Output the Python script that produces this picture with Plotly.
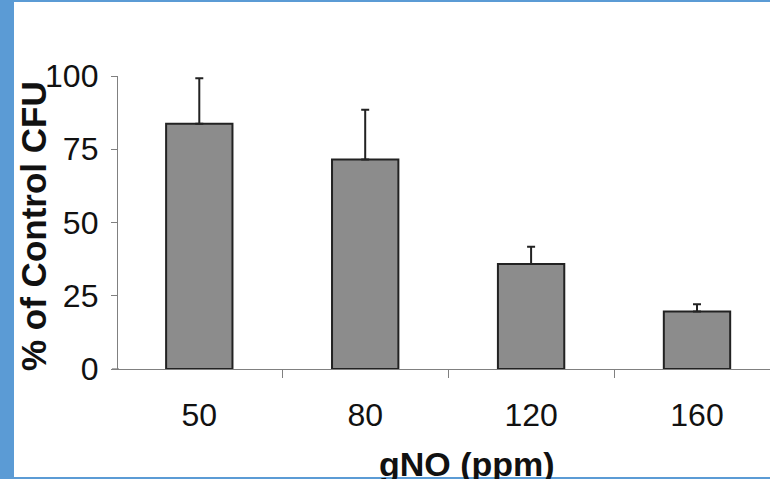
import plotly.graph_objects as go

categories = ["50", "80", "120", "160"]
pct_control = [83.7, 71.5, 35.8, 19.6]
err_upper = [15.5, 17.0, 5.9, 2.5]
y_ticks = [0, 25, 50, 75, 100]

W, H = 770, 479
L, R, T, B = 118, 0, 76, 110
pw, ph = W - L - R, H - T - B

def px_x(px):
    return (px - L) / pw

def px_y(py):
    return (H - B - py) / ph

fig = go.Figure()
fig.add_trace(go.Bar(
    x=categories, y=pct_control, width=0.4,
    marker=dict(color="#8c8c8c", line=dict(color="#222222", width=2)),
    error_y=dict(type="data", symmetric=False, array=err_upper,
                 arrayminus=[0] * len(err_upper),
                 color="#222222", thickness=2, width=4),
))

font = "Arial, Liberation Sans, sans-serif"
blue = "#5B9BD5"
shapes = [
    dict(type="rect", xref="paper", yref="paper", x0=px_x(0), x1=px_x(14),
         y0=px_y(H), y1=px_y(0), fillcolor=blue, line=dict(width=0), layer="above"),
    dict(type="rect", xref="paper", yref="paper", x0=px_x(14), x1=px_x(W),
         y0=px_y(2), y1=px_y(0), fillcolor=blue, line=dict(width=0), layer="above"),
    dict(type="rect", xref="paper", yref="paper", x0=px_x(14), x1=px_x(W),
         y0=px_y(H), y1=px_y(H - 2), fillcolor=blue, line=dict(width=0), layer="above"),
    dict(type="line", xref="paper", yref="paper", x0=px_x(112), x1=px_x(119),
         y0=0, y1=0, line=dict(color="#808080", width=1.3)),
]

fig.update_layout(
    width=W, height=H,
    margin=dict(l=L, r=R, t=T, b=B),
    paper_bgcolor="white", plot_bgcolor="white",
    showlegend=False,
    shapes=shapes,
    xaxis=dict(type="category", range=[-0.49, 3.44], showline=True,
               linecolor="#808080", linewidth=1.3, ticks="outside",
               tickson="boundaries", ticklen=8, tickcolor="#808080",
               tickfont=dict(family=font, size=32, color="#111111"),
               ticklabelstandoff=17, showgrid=False, zeroline=False),
    yaxis=dict(range=[0, 100], tickvals=y_ticks, showline=True,
               linecolor="#808080", linewidth=1.3, ticks="outside",
               ticklen=6, tickcolor="#808080",
               tickfont=dict(family=font, size=32, color="#111111"),
               ticklabelstandoff=6, showgrid=False, zeroline=False),
    annotations=[
        dict(text="<b>gNO (ppm)</b>", xref="paper", yref="paper",
             x=px_x(467), y=px_y(464), xanchor="center", yanchor="middle",
             showarrow=False, font=dict(family=font, size=34, color="#111111")),
        dict(text="<b>% of Control CFU</b>", xref="paper", yref="paper",
             x=px_x(33), y=px_y(226), xanchor="center", yanchor="middle",
             textangle=-90, showarrow=False,
             font=dict(family=font, size=35, color="#111111")),
    ],
)

fig.write_html(
    "out.html", config={"displayModeBar": False},
    post_script=("document.documentElement.style.margin='0';"
                 "document.body.style.margin='0';"
                 "document.body.style.overflow='hidden';"),
)
